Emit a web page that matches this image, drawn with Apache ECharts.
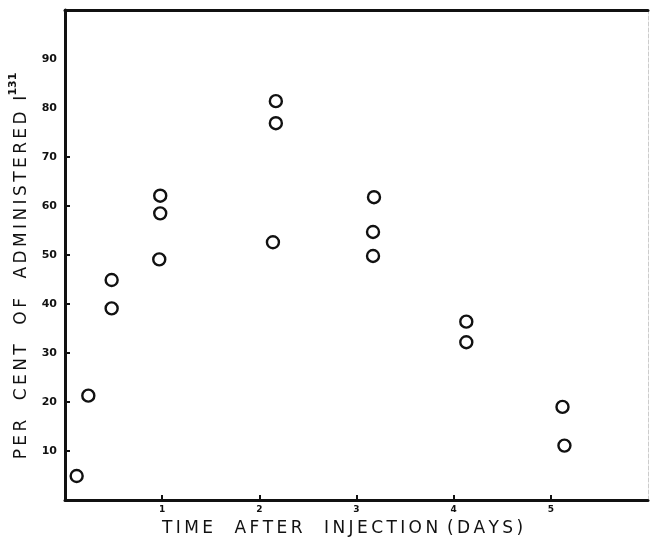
<!DOCTYPE html>
<html>
<head>
<meta charset="utf-8">
<style>
html,body{margin:0;padding:0;background:#fff;}
#chart{width:650px;height:542px;}
</style>
<script src="https://cdn.jsdelivr.net/npm/echarts@6/dist/echarts.min.js"></script>
</head>
<body>
<div id="chart"></div>
<script>
// Time after injection (days) and per cent of administered I-131
var timeDays = [0.12, 0.24, 0.48, 0.48, 0.98, 0.98, 0.97, 2.17, 2.17, 2.14, 3.18, 3.17, 3.17, 4.13, 4.13, 5.12, 5.14];
var perCent  = [4.9, 21.3, 44.9, 39.1, 62.1, 58.5, 49.1, 81.4, 76.9, 52.6, 61.8, 54.7, 49.8, 36.4, 32.2, 19.0, 11.1];
var xTickValues = [1, 2, 3, 4, 5];
var yLabelValues = [10, 20, 30, 40, 50, 60, 70, 80, 90];
var yTickValues = [10, 20, 30, 40, 50, 60, 70];
var xTitleWords = ['TIME', 'AFTER', 'INJECTION', '(DAYS)'];
var yTitleWords = ['PER', 'CENT', 'OF', 'ADMINISTERED', 'I'];
var ySuperscript = '131';

var points = timeDays.map(function (t, i) { return [t, perCent[i]]; });

// spread letters a little (typewriter-like lettering of the original)
var TS = '\u2009';
function spread(w) { return w.split('').join(TS); }
var xTitle = spread(xTitleWords[0]) + '    ' + spread(xTitleWords[1]) + '    ' +
             spread(xTitleWords[2]) + ' ' + TS + spread(xTitleWords[3]);
var yTitleMain = yTitleWords.slice(0, 4).map(spread).join('   ' + TS) + '  ' + yTitleWords[4];

var chart = echarts.init(document.getElementById('chart'), null, {renderer: 'canvas'});
chart.setOption({
  backgroundColor: '#ffffff',
  animation: false,
  grid: {left: 62, right: 2, top: 10, bottom: 38},
  xAxis: [{
    type: 'value', min: 0, max: 6,
    name: xTitle,
    nameLocation: 'middle', nameGap: 20,
    nameTextStyle: {fontFamily: 'DejaVu Sans', fontSize: 17, color: '#111', padding: [0, 28, 0, 0]},
    axisLine: {show: true, onZero: false, lineStyle: {color: '#111', width: 3}},
    axisTick: {show: true, inside: true, length: 5, customValues: xTickValues, lineStyle: {color: '#111', width: 2}},
    axisLabel: {show: true, customValues: xTickValues, margin: 5, fontFamily: 'DejaVu Sans', fontWeight: 'bold', fontSize: 9, color: '#111'},
    splitLine: {show: false}
  }, {
    type: 'value', min: 0, max: 6, position: 'top',
    axisLine: {show: true, onZero: false, lineStyle: {color: '#111', width: 3}},
    axisTick: {show: false}, axisLabel: {show: false}, splitLine: {show: false}
  }],
  yAxis: [{
    type: 'value', min: 0, max: 100,
    name: '{a|' + yTitleMain + '}{s|' + ySuperscript + '}',
    nameLocation: 'middle', nameGap: 35, nameRotate: 90,
    nameTextStyle: {
      padding: [0, 22, 0, 0],
      rich: {
        a: {fontFamily: 'DejaVu Sans', fontSize: 17, color: '#111', lineHeight: 22, verticalAlign: 'bottom'},
        s: {fontFamily: 'DejaVu Sans', fontSize: 11, fontWeight: 'bold', color: '#111', lineHeight: 22, verticalAlign: 'top'}
      }
    },
    axisLine: {show: true, onZero: false, lineStyle: {color: '#111', width: 3}},
    axisTick: {show: true, inside: true, length: 5, customValues: yTickValues, lineStyle: {color: '#111', width: 2}},
    axisLabel: {show: true, customValues: yLabelValues, margin: 8, fontFamily: 'DejaVu Sans', fontWeight: 'bold', fontSize: 11, color: '#111'},
    splitLine: {show: false}
  }, {
    type: 'value', min: 0, max: 100, position: 'right',
    axisLine: {show: true, onZero: false, lineStyle: {color: '#cccccc', width: 1, type: 'dashed'}},
    axisTick: {show: false}, axisLabel: {show: false}, splitLine: {show: false}
  }],
  series: [{
    type: 'scatter',
    data: points,
    symbol: 'circle',
    symbolSize: 12,
    itemStyle: {color: '#ffffff', borderColor: '#111', borderWidth: 2.4, opacity: 1}
  }]
});
</script>
</body>
</html>
